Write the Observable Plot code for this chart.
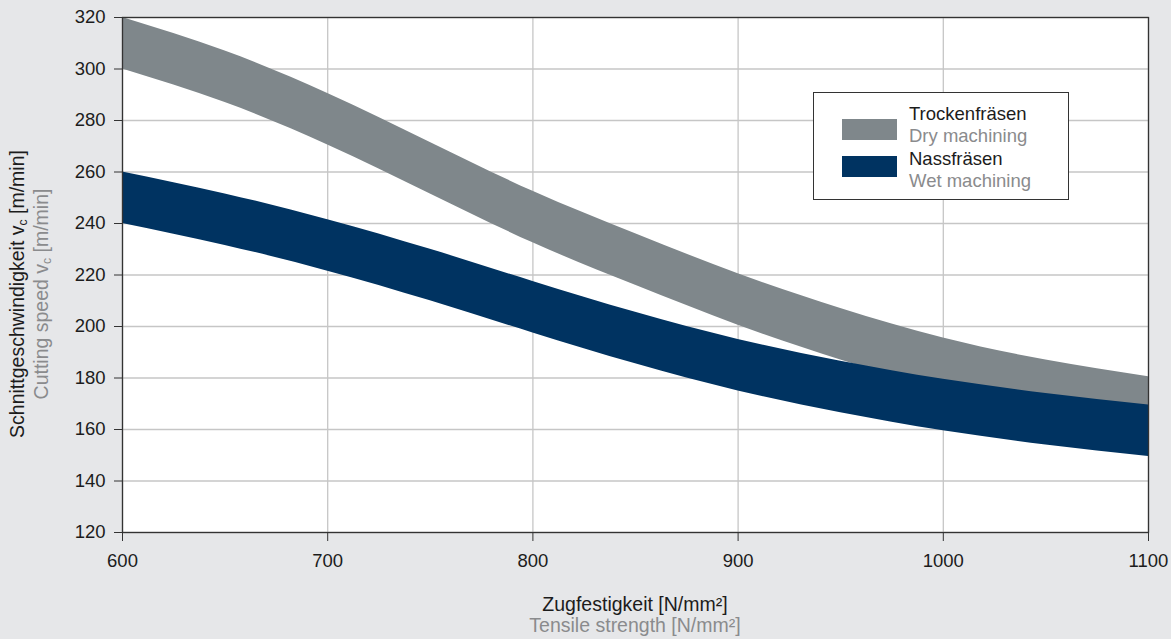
<!DOCTYPE html>
<html>
<head>
<meta charset="utf-8">
<script src="https://cdn.jsdelivr.net/npm/d3@7"></script>
<script src="https://cdn.jsdelivr.net/npm/@observablehq/plot@0.6"></script>
<style>
  html, body { margin: 0; padding: 0; background: #e6e7e9; }
  body { width: 1171px; height: 639px; overflow: hidden; font-family: "Liberation Sans", Arial, sans-serif; }
  #wrap { position: relative; width: 1171px; height: 639px; }
  #chart svg { display: block; }
  .lbl { position: absolute; font-size: 19.5px; line-height: 21px; white-space: nowrap; text-align: center; }
  .de { color: #1c1c1c; }
  .en { color: #8a8b8d; }
  .sub { font-size: 0.62em; position: relative; top: 0.28em; }
  #ylab { left: 31px; top: 294px; transform: translate(-50%, -50%) rotate(-90deg); }
  #xlab { left: 635px; top: 594px; transform: translateX(-50%); line-height: 20.5px; }
  #legend { position: absolute; left: 813px; top: 92px; width: 256px; height: 108px; background: #fff; border: 1.3px solid #333; box-sizing: border-box; }
  .sw { position: absolute; width: 55px; height: 21px; }
  .lt { position: absolute; font-size: 18.5px; line-height: 21px; white-space: nowrap; }
</style>
</head>
<body>
<div id="wrap">
  <div id="chart"></div>
  <div id="ylab" class="lbl"><div class="de">Schnittgeschwindigkeit v<span class="sub">c</span> [m/min]</div><div class="en">Cutting speed v<span class="sub">c</span> [m/min]</div></div>
  <div id="xlab" class="lbl"><div class="de">Zugfestigkeit [N/mm²]</div><div class="en">Tensile strength [N/mm²]</div></div>
  <div id="legend"></div>
</div>
<script>
// Tensile strength [N/mm²]
const tensile   = [600, 650, 700, 750, 800, 850, 900, 950, 1000, 1050, 1100];
// Dry machining band (Trockenfräsen)
const dryUpper  = [320, 307, 290.5, 271.5, 252.5, 236, 220.5, 207, 195.5, 187, 180.5];
const dryLower  = [300, 287, 270.5, 251.5, 232.5, 216, 200.5, 187, 175.5, 167, 160.5];
// Wet machining band (Nassfräsen)
const wetUpper  = [260, 251.5, 241.5, 230, 217.5, 205.5, 195, 186.5, 179.5, 174, 169.5];
const wetLower  = [240, 231.5, 221.5, 210, 197.5, 185.5, 175, 166.5, 159.5, 154, 149.5];

const xTicks = [600, 700, 800, 900, 1000, 1100];
const yTicks = [120, 140, 160, 180, 200, 220, 240, 260, 280, 300, 320];

const series = [
  {de: "Trockenfräsen", en: "Dry machining", color: "#7f878b"},
  {de: "Nassfräsen", en: "Wet machining", color: "#003361"}
];

const dry = tensile.map((x, i) => ({x, lo: dryLower[i], hi: dryUpper[i]}));
const wet = tensile.map((x, i) => ({x, lo: wetLower[i], hi: wetUpper[i]}));

const plot = Plot.plot({
  width: 1171,
  height: 639,
  marginLeft: 122,
  marginRight: 23,
  marginTop: 17,
  marginBottom: 107,
  style: {background: "transparent", fontFamily: "'Liberation Sans', Arial, sans-serif", fontSize: "18.5px", color: "#1c1c1c"},
  x: {domain: [600, 1100], ticks: xTicks},
  y: {domain: [120, 320], ticks: yTicks},
  marks: [
    Plot.frame({fill: "#ffffff", stroke: null}),
    Plot.gridX(xTicks, {stroke: "#c6c6c6", strokeOpacity: 1, strokeWidth: 1.3}),
    Plot.gridY(yTicks, {stroke: "#c6c6c6", strokeOpacity: 1, strokeWidth: 1.3}),
    Plot.areaY(dry, {x: "x", y1: "lo", y2: "hi", fill: series[0].color, curve: "natural"}),
    Plot.areaY(wet, {x: "x", y1: "lo", y2: "hi", fill: series[1].color, curve: "natural"}),
    Plot.frame({stroke: "#333333", strokeWidth: 1.3}),
    Plot.axisX(xTicks, {tickSize: 9, tickPadding: 12, tickFormat: "d", stroke: "#333333", fill: "#1c1c1c", fontSize: 18.5, label: null}),
    Plot.axisY(yTicks, {tickSize: 8, tickPadding: 9, tickFormat: "d", stroke: "#333333", fill: "#1c1c1c", fontSize: 18.5, label: null})
  ]
});
document.getElementById("chart").appendChild(plot);

// HTML legend
const legend = d3.select("#legend");
series.forEach((s, i) => {
  const sTop = 26 + i * 37;
  const tTop = 10 + i * 45;
  legend.append("div").attr("class", "sw").style("left", "28px").style("top", sTop + "px").style("background", s.color);
  legend.append("div").attr("class", "lt de").style("left", "95px").style("top", tTop + "px").text(s.de);
  legend.append("div").attr("class", "lt en").style("left", "95px").style("top", (tTop + 22) + "px").text(s.en);
});
</script>
</body>
</html>
